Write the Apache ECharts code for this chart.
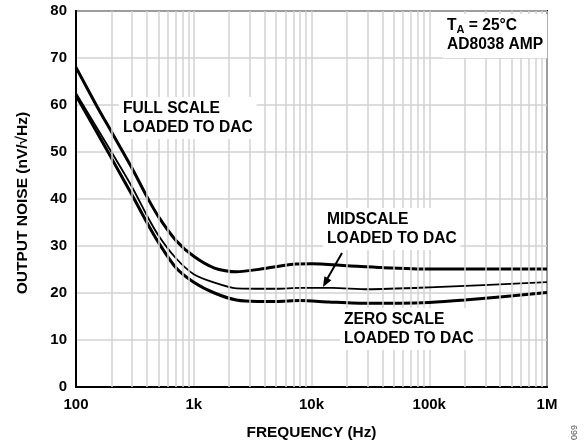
<!DOCTYPE html>
<html>
<head>
<meta charset="utf-8">
<script src="https://cdn.jsdelivr.net/npm/echarts@6/dist/echarts.min.js"></script>
<style>
  html, body { margin: 0; padding: 0; background: #fff; }
  #chart { width: 587px; height: 448px; }
</style>
</head>
<body>
<div id="chart"></div>
<script>
  // values (Hz, nV/rtHz)
  var fullFreq = [100, 150, 200, 300, 400, 500, 700, 1000, 1500, 2300, 4000, 7000, 10000, 20000, 40000, 100000, 1000000];
  var fullNoise = [68, 59.8, 54.3, 46.5, 40.5, 36.3, 31.3, 27.8, 25.3, 24.5, 25.2, 26.1, 26.2, 25.8, 25.4, 25.1, 25.1];

  var midFreq = [100, 200, 300, 400, 500, 700, 1000, 1500, 2300, 5000, 8000, 15000, 30000, 100000, 1000000];
  var midNoise = [62.5, 50, 42.5, 36.5, 32.3, 27.5, 24, 22.2, 21, 20.9, 21.1, 21.1, 20.8, 21.2, 22.3];

  var zeroFreq = [100, 200, 300, 400, 500, 700, 1000, 1500, 2300, 3500, 5000, 8000, 14000, 30000, 100000, 200000, 1000000];
  var zeroNoise = [62, 48.7, 40.8, 35, 30.8, 25.5, 22.3, 20, 18.5, 18.2, 18.2, 18.4, 18.1, 17.8, 18, 18.5, 20.1];

  var xTicks = {100: '100', 1000: '1k', 10000: '10k', 100000: '100k', 1000000: '1M'};
  var minorFreq = [];
  [100, 1000, 10000, 100000].forEach(function (d) {
    for (var k = 2; k <= 9; k++) minorFreq.push(d * k);
  });

  function pairs(xs, ys) {
    return xs.map(function (x, i) { return [x, ys[i]]; });
  }

  var font = '"Liberation Sans", Arial, sans-serif';
  var noteFont = 'bold 15.6px ' + font;
  var chart = echarts.init(document.getElementById('chart'));
  chart.setOption({
    animation: false,
    backgroundColor: '#fff',
    grid: {
      left: 76, right: 40, top: 11, bottom: 61,
      show: true, borderColor: '#000', borderWidth: 2
    },
    xAxis: {
      type: 'log',
      logBase: 10,
      min: 100,
      max: 1000000,
      name: 'FREQUENCY (Hz)',
      nameLocation: 'middle',
      nameGap: 38,
      nameTextStyle: { fontFamily: font, fontWeight: 'bold', fontSize: 15.4, color: '#000' },
      axisLine: { lineStyle: { color: '#000', width: 2 } },
      axisTick: { show: false },
      axisLabel: {
        margin: 10,
        fontFamily: font, fontWeight: 'bold', fontSize: 15, color: '#000',
        formatter: function (v) { return xTicks[Math.round(v)] || ''; }
      },
      splitLine: { show: true, lineStyle: { color: '#d2d2d2', width: 1.5 } }
    },
    yAxis: {
      type: 'value',
      min: 0,
      max: 80,
      interval: 10,
      name: 'OUTPUT NOISE (nV/\u221AHz)',
      nameLocation: 'middle',
      nameGap: 45,
      nameTextStyle: { fontFamily: font, fontWeight: 'bold', fontSize: 15.5, color: '#000', padding: [0, 8, 0, 0] },
      axisLine: { show: true, lineStyle: { color: '#000', width: 2 } },
      axisTick: { show: false },
      axisLabel: { margin: 9, fontFamily: font, fontWeight: 'bold', fontSize: 15, color: '#000' },
      splitLine: { show: true, lineStyle: { color: '#d2d2d2', width: 1.5 } }
    },
    series: [
      {
        // minor log grid lines
        type: 'line',
        data: [],
        z: 1,
        silent: true,
        markLine: {
          silent: true,
          symbol: 'none',
          label: { show: false },
          lineStyle: { color: '#d2d2d2', width: 1.5, type: 'solid' },
          data: minorFreq.map(function (f) { return { xAxis: f }; })
        }
      },
      {
        name: 'FULL SCALE',
        type: 'line',
        smooth: 0.25,
        showSymbol: false,
        z: 3,
        lineStyle: { color: '#000', width: 3 },
        data: pairs(fullFreq, fullNoise)
      },
      {
        name: 'MIDSCALE',
        type: 'line',
        smooth: 0.25,
        showSymbol: false,
        z: 3,
        lineStyle: { color: '#000', width: 1.8 },
        data: pairs(midFreq, midNoise)
      },
      {
        name: 'ZERO SCALE',
        type: 'line',
        smooth: 0.25,
        showSymbol: false,
        z: 3,
        lineStyle: { color: '#000', width: 3 },
        data: pairs(zeroFreq, zeroNoise)
      }
    ],
    graphic: [
      {
        type: 'text', left: 119, top: 97, z: 10,
        style: {
          text: 'FULL SCALE\nLOADED TO DAC', font: noteFont, fill: '#000',
          lineHeight: 19, backgroundColor: '#fff', padding: [2, 4, 2, 4]
        }
      },
      {
        type: 'text', left: 323, top: 208, z: 10,
        style: {
          text: 'MIDSCALE\nLOADED TO DAC', font: noteFont, fill: '#000',
          lineHeight: 19, backgroundColor: '#fff', padding: [2, 4, 2, 4]
        }
      },
      {
        type: 'text', left: 340, top: 308, z: 10,
        style: {
          text: 'ZERO SCALE\nLOADED TO DAC', font: noteFont, fill: '#000',
          lineHeight: 19, backgroundColor: '#fff', padding: [2, 4, 2, 4]
        }
      },
      {
        type: 'text', left: 443, top: 14, z: 10,
        style: {
          text: '{t|T}{s|A}{t| = 25°C}\n{t|AD8038 AMP}',
          backgroundColor: '#fff', padding: [2, 4, 4, 4],
          rich: {
            t: { font: noteFont, fill: '#000', lineHeight: 19 },
            s: { font: 'bold 11px ' + font, fill: '#000', lineHeight: 19, padding: [8, 0, 0, 0] }
          }
        }
      },
      {
        type: 'line', z: 11,
        shape: { x1: 342, y1: 253, x2: 326, y2: 281 },
        style: { stroke: '#000', lineWidth: 2 }
      },
      {
        type: 'polygon', z: 11,
        shape: { points: [[323, 287], [331.4, 280.2], [324.4, 276.3]] },
        style: { fill: '#000' }
      },
      {
        type: 'text', left: 570, top: 425, rotation: Math.PI / 2, z: 10,
        style: { text: '069', font: '9px ' + font, fill: '#555' }
      }
    ]
  });
</script>
</body>
</html>
